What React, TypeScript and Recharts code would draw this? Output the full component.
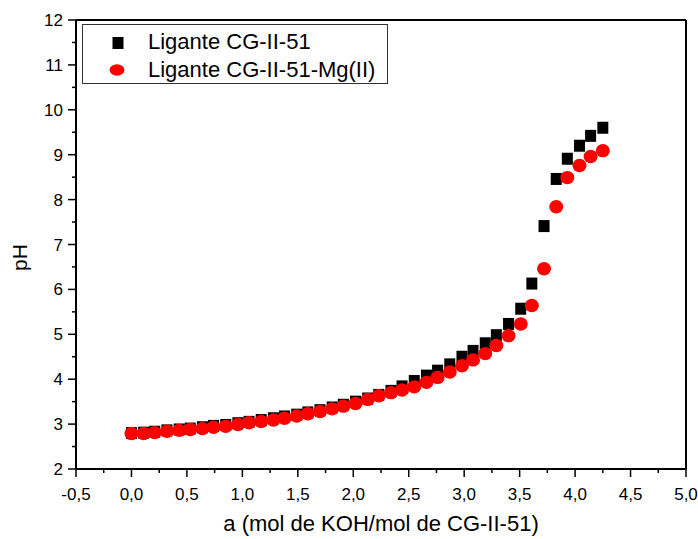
import {
  ScatterChart,
  Scatter,
  XAxis,
  YAxis,
  ReferenceLine,
} from 'recharts';

// equivalents of KOH added (a)
const A_VALUES = [
  0, 0.11, 0.21, 0.32, 0.43, 0.53, 0.64, 0.74, 0.85, 0.96,
  1.06, 1.17, 1.28, 1.38, 1.49, 1.59, 1.7, 1.81, 1.91, 2.02,
  2.13, 2.23, 2.34, 2.44, 2.55, 2.66, 2.76, 2.87, 2.98, 3.08,
  3.19, 3.29, 3.4, 3.51, 3.61, 3.72, 3.83, 3.93, 4.04, 4.14, 4.25,
];

const PH_LIGAND = [
  2.8, 2.81, 2.83, 2.86, 2.88, 2.9, 2.93, 2.96, 2.98, 3.02,
  3.05, 3.09, 3.13, 3.17, 3.21, 3.26, 3.31, 3.37, 3.43, 3.5,
  3.57, 3.65, 3.74, 3.84, 3.96, 4.08, 4.19, 4.33, 4.5, 4.63,
  4.8, 4.98, 5.23, 5.57, 6.13, 7.41, 8.46, 8.91, 9.2, 9.42, 9.6,
];

const PH_LIGAND_MG = [
  2.79, 2.79, 2.81, 2.84, 2.86, 2.88, 2.9, 2.93, 2.95, 2.99,
  3.03, 3.06, 3.09, 3.13, 3.18, 3.23, 3.28, 3.34, 3.4, 3.46,
  3.55, 3.63, 3.7, 3.76, 3.83, 3.93, 4.04, 4.16, 4.3, 4.43,
  4.57, 4.75, 4.97, 5.23, 5.64, 6.46, 7.84, 8.49, 8.76, 8.96, 9.09,
];

const SERIES_NAMES = ['Ligante CG-II-51', 'Ligante CG-II-51-Mg(II)'];

const X_TICKS = [
  -0.5, -0.25, 0, 0.25, 0.5, 0.75, 1, 1.25, 1.5, 1.75, 2, 2.25,
  2.5, 2.75, 3, 3.25, 3.5, 3.75, 4, 4.25, 4.5, 4.75, 5,
];

const Y_TICKS = [
  2, 2.5, 3, 3.5, 4, 4.5, 5, 5.5, 6, 6.5, 7, 7.5,
  8, 8.5, 9, 9.5, 10, 10.5, 11, 11.5, 12,
];

const FONT = '"Liberation Sans", Arial, sans-serif';

const ligandData = A_VALUES.map((a, i) => ({ a, ph: PH_LIGAND[i] }));
const ligandMgData = A_VALUES.map((a, i) => ({ a, ph: PH_LIGAND_MG[i] }));

function isMajor(v: number, step: number) {
  const r = v / step;
  return Math.abs(r - Math.round(r)) < 1e-6;
}

function XTick(props: any) {
  const { x, y, payload } = props;
  const v = payload.value as number;
  const major = isMajor(v, 0.5);
  return (
    <g>
      <line x1={x} x2={x} y1={y} y2={y + (major ? 8 : 4)} stroke="#000" strokeWidth={1.5} />
      {major && (
        <text x={x} y={y + 31} textAnchor="middle" fontSize={17} fontFamily={FONT} fill="#000">
          {v.toFixed(1).replace('.', ',')}
        </text>
      )}
    </g>
  );
}

function YTick(props: any) {
  const { x, y, payload } = props;
  const v = payload.value as number;
  const major = isMajor(v, 1);
  return (
    <g>
      <line x1={x} x2={x - (major ? 8 : 4)} y1={y} y2={y} stroke="#000" strokeWidth={1.5} />
      {major && (
        <text x={x - 13} y={y + 6} textAnchor="end" fontSize={17} fontFamily={FONT} fill="#000">
          {v}
        </text>
      )}
    </g>
  );
}

function PhLabel(props: any) {
  const { viewBox } = props;
  const x = viewBox.x + 19;
  const y = viewBox.y + viewBox.height / 2 + 13;
  return (
    <text
      x={x}
      y={y}
      transform={`rotate(-90, ${x}, ${y})`}
      textAnchor="middle"
      dominantBaseline="central"
      fontSize={21}
      fontFamily={FONT}
      fill="#000"
    >
      pH
    </text>
  );
}

function SquareMark(props: any) {
  const { cx, cy } = props;
  return <rect x={cx - 5.5} y={cy - 6} width={11} height={12} fill="#000" />;
}

function CircleMark(props: any) {
  const { cx, cy } = props;
  return <ellipse cx={cx} cy={cy} rx={7} ry={6.7} fill="#ff0000" />;
}

function LegendBox() {
  return (
    <div
      style={{
        position: 'absolute',
        left: 82,
        top: 24,
        width: 306,
        height: 60,
        border: '1px solid #333',
        boxSizing: 'border-box',
        background: '#fff',
        fontFamily: FONT,
        fontSize: 22,
        color: '#000',
      }}
    >
      <svg width={60} height={58} style={{ position: 'absolute', left: 0, top: 0 }}>
        <rect x={29.5} y={12} width={11} height={12} fill="#000" />
        <ellipse cx={34} cy={45} rx={7.5} ry={5.8} fill="#ff0000" />
      </svg>
      <div style={{ position: 'absolute', left: 65, top: 5, lineHeight: '24px', whiteSpace: 'nowrap' }}>
        {SERIES_NAMES[0]}
      </div>
      <div style={{ position: 'absolute', left: 65, top: 33, lineHeight: '24px', whiteSpace: 'nowrap' }}>
        {SERIES_NAMES[1]}
      </div>
    </div>
  );
}

export default function App() {
  return (
    <div style={{ position: 'absolute', left: 0, top: 0, width: 698, height: 539, background: '#fff' }}>
      <ScatterChart
        width={698}
        height={539}
        margin={{ top: 20, right: 12, bottom: 0, left: 0 }}
      >
        <XAxis
          type="number"
          dataKey="a"
          domain={[-0.5, 5]}
          ticks={X_TICKS}
          interval={0}
          tickSize={0}
          tickMargin={0}
          tickLine={false}
          tick={<XTick />}
          axisLine={{ stroke: '#000', strokeWidth: 2 }}
          height={70}
          label={{
            value: 'a (mol de KOH/mol de CG-II-51)',
            position: 'insideBottom',
            offset: 8,
            style: { fontSize: 22, fontFamily: FONT, fill: '#000' },
          }}
        />
        <YAxis
          type="number"
          dataKey="ph"
          domain={[2, 12]}
          ticks={Y_TICKS}
          interval={0}
          tickSize={0}
          tickMargin={0}
          tickLine={false}
          tick={<YTick />}
          axisLine={{ stroke: '#000', strokeWidth: 2 }}
          width={76}
          label={<PhLabel />}
        />
        <ReferenceLine y={12} stroke="#000" strokeWidth={2} />
        <ReferenceLine x={5} stroke="#000" strokeWidth={2} />
        <Scatter
          name={SERIES_NAMES[0]}
          data={ligandData}
          shape={<SquareMark />}
          isAnimationActive={false}
        />
        <Scatter
          name={SERIES_NAMES[1]}
          data={ligandMgData}
          shape={<CircleMark />}
          isAnimationActive={false}
        />
      </ScatterChart>
      <LegendBox />
    </div>
  );
}
